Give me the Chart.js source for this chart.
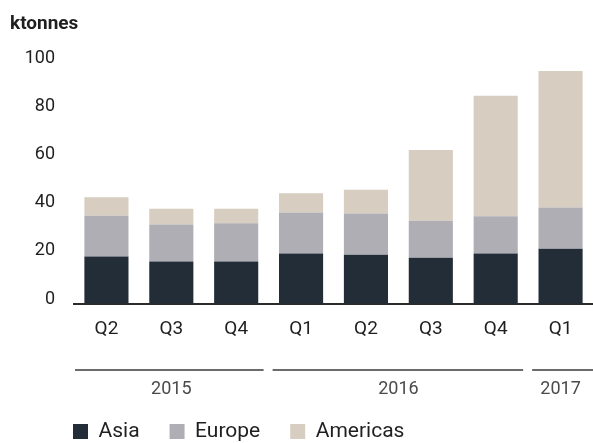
<!DOCTYPE html>
<html>
<head>
<meta charset="utf-8">
<script src="https://cdn.jsdelivr.net/npm/chart.js@4/dist/chart.umd.min.js"></script>
<style>
  html, body { margin: 0; padding: 0; background: #ffffff; }
  #wrap { width: 593px; height: 443px; position: relative; }
</style>
</head>
<body>
<div id="wrap"><canvas id="c" width="593" height="443"></canvas></div>
<script>
// ---- data ----
const quarters = ['Q2', 'Q3', 'Q4', 'Q1', 'Q2', 'Q3', 'Q4', 'Q1'];
const quarterYears = ['2015', '2015', '2015', '2016', '2016', '2016', '2016', '2017'];
const asia = [19.5, 17.4, 17.4, 20.8, 20.3, 19.0, 20.8, 22.7];
const europe = [17.0, 15.4, 15.9, 17.0, 17.1, 15.4, 15.4, 17.2];
const americas = [7.6, 6.6, 6.1, 8.0, 9.9, 29.4, 50.1, 56.7];
const yTicks = [0, 20, 40, 60, 80, 100];
const unitLabel = 'ktonnes';

const FONT = 'Roboto, "Liberation Sans", sans-serif';
const TEXT = '#1f1f1f';

const yearGroups = [];
quarterYears.forEach((y, i) => {
  const last = yearGroups[yearGroups.length - 1];
  if (last && last.year === y) last.end = i;
  else yearGroups.push({ year: y, start: i, end: i });
});

const yearPlugin = {
  id: 'yearGroups',
  afterDraw(chart) {
    const xs = chart.scales.x;
    const ctx = chart.ctx;
    const half = (xs.getPixelForValue(1) - xs.getPixelForValue(0)) / 2;
    ctx.save();
    yearGroups.forEach((g, gi) => {
      const b0 = xs.getPixelForValue(g.start) - half;
      const b1 = xs.getPixelForValue(g.end) + half;
      const x0 = b0 + (gi === 0 ? 1 : 4);
      const x1 = gi === yearGroups.length - 1 ? chart.chartArea.right : b1 - 5;
      ctx.strokeStyle = '#3a3a3a';
      ctx.lineWidth = 1.5;
      ctx.beginPath();
      ctx.moveTo(x0, 370);
      ctx.lineTo(x1, 370);
      ctx.stroke();
      ctx.fillStyle = '#4a4a4a';
      ctx.font = '18px ' + FONT;
      ctx.textAlign = 'center';
      ctx.textBaseline = 'middle';
      ctx.fillText(g.year, (b0 + b1) / 2, 389);
    });
    ctx.restore();
  }
};

const legendShift = {
  id: 'legendShift',
  afterLayout(chart) {
    if (chart.legend) { chart.legend.left += 33; }
  }
};

new Chart(document.getElementById('c'), {
  type: 'bar',
  data: {
    labels: quarters,
    datasets: [
      { label: 'Asia', data: asia, backgroundColor: '#232d38', borderWidth: 0 },
      { label: 'Europe', data: europe, backgroundColor: '#afaeb4', borderWidth: 0 },
      { label: 'Americas', data: americas, backgroundColor: '#d7cdc1', borderWidth: 0 }
    ]
  },
  options: {
    responsive: false,
    animation: false,
    layout: { padding: { left: 10, right: 0, top: 13, bottom: -9 } },
    datasets: { bar: { barPercentage: 0.68, categoryPercentage: 1.0 } },
    scales: {
      x: {
        stacked: true,
        grid: { display: false, drawTicks: false },
        border: { display: true, color: '#2b2b2b', width: 2 },
        ticks: { color: TEXT, font: { family: FONT, size: 19 }, padding: 14, maxRotation: 0, autoSkip: false },
        afterFit(s) { s.height = 87.5; }
      },
      y: {
        stacked: true,
        min: 0,
        max: 100,
        grid: { display: false, drawTicks: false },
        border: { display: false },
        afterBuildTicks(s) { s.ticks = yTicks.map(v => ({ value: v })); },
        ticks: { color: TEXT, font: { family: FONT, size: 18 }, padding: 19, labelOffset: -4.5 },
        afterFit(s) { s.width = 64; }
      }
    },
    plugins: {
      title: {
        display: true,
        text: unitLabel,
        align: 'start',
        color: TEXT,
        font: { family: FONT, size: 19, weight: 'bold' },
        padding: { top: 0, bottom: 27 }
      },
      legend: {
        position: 'bottom',
        align: 'start',
        labels: {
          boxWidth: 15,
          boxHeight: 15,
          padding: 30,
          color: TEXT,
          font: { family: FONT, size: 21 }
        }
      },
      tooltip: { enabled: false }
    }
  },
  plugins: [yearPlugin, legendShift]
});
</script>
</body>
</html>
